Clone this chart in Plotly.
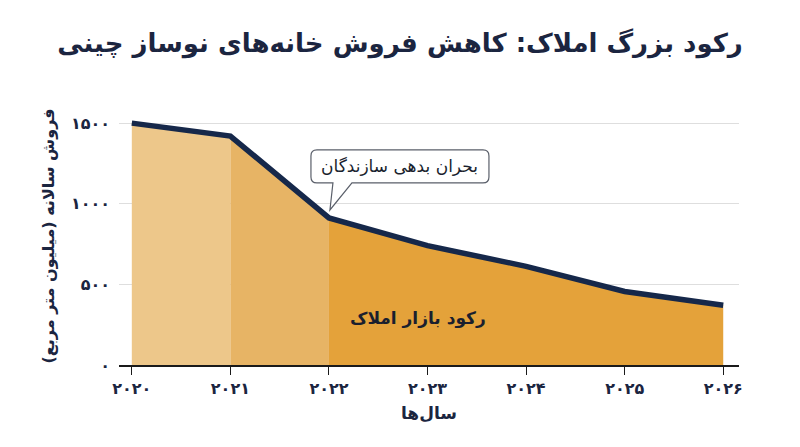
import plotly.graph_objects as go

# data
years = [2020, 2021, 2022, 2023, 2024, 2025, 2026]
sales = [1500, 1420, 912, 740, 612, 456, 370]
year_labels = ["۲۰۲۰", "۲۰۲۱", "۲۰۲۲", "۲۰۲۳", "۲۰۲۴", "۲۰۲۵", "۲۰۲۶"]
y_ticks = [0, 500, 1000, 1500]
y_labels = ["۰", "۵۰۰", "۱۰۰۰", "۱۵۰۰"]

# shading bands: (start index, end index, colour)
bands = [(0, 1, "#EDC78A"), (1, 2, "#E7B465"), (2, 6, "#E4A23A")]

font_fa = "DejaVu Sans"
navy = "#16284A"
ink = "#1B2540"

fig = go.Figure()

for i0, i1, col in bands:
    fig.add_trace(go.Scatter(x=years[i0:i1 + 1], y=sales[i0:i1 + 1], mode="lines",
                             fill="tozeroy", fillcolor=col, line=dict(width=0),
                             hoverinfo="skip", showlegend=False))

fig.add_trace(go.Scatter(x=years, y=sales, mode="lines",
                         line=dict(color=navy, width=5.5), showlegend=False))

# speech bubble pointing at 2022 (pixel offsets relative to the data point)
bubble = ("M -12 68 L 154 68 Q 160 68 160 62 L 160 41 Q 160 35 154 35 "
          "L 23 35 L 1 8 L 4 35 L -12 35 Q -18 35 -18 41 L -18 62 Q -18 68 -12 68 Z")
fig.add_shape(type="path", path=bubble, xref="x", yref="y",
              xsizemode="pixel", ysizemode="pixel",
              xanchor=years[2], yanchor=sales[2],
              fillcolor="white", line=dict(color="#5A5F6A", width=1.2), layer="above")

fig.add_annotation(x=years[2], y=sales[2], xshift=71, yshift=52, showarrow=False,
                   text="بحران بدهی سازندگان",
                   font=dict(family=font_fa, size=17, color="#1A1F2E"))

fig.add_annotation(x=2022.9, y=290, showarrow=False, text="<b>رکود بازار املاک</b>",
                   font=dict(family=font_fa, size=17, color="#1A1F2E"))

fig.update_layout(
    width=800, height=447,
    margin=dict(l=119, r=61, t=107, b=82),
    paper_bgcolor="white", plot_bgcolor="white",
    title=dict(text="<b>رکود بزرگ املاک: کاهش فروش خانه‌های نوساز چینی</b>",
               x=0.5, xanchor="center", y=1 - 43 / 447, yanchor="middle",
               font=dict(family=font_fa, size=26, color=ink)),
    xaxis=dict(range=[2019.87, 2026.16], tickvals=years, ticktext=year_labels,
               showgrid=False, showline=True, linecolor="#1A1A1A", linewidth=1.5,
               ticks="outside", ticklen=8, tickcolor="#1A1A1A", tickwidth=1.2,
               tickfont=dict(family=font_fa, size=16, color=ink, weight="bold"),
               title=dict(text="<b>سال‌ها</b>", standoff=10,
                          font=dict(family=font_fa, size=17, color=ink))),
    yaxis=dict(range=[0, 1600], tickvals=y_ticks, ticktext=y_labels,
               showgrid=True, gridcolor="#DEDEDE", gridwidth=1, zeroline=False,
               ticks="", ticklabelstandoff=8,
               tickfont=dict(family=font_fa, size=16, color=ink, weight="bold"),
               title=dict(text="<b>فروش سالانه (میلیون متر مربع)</b>", standoff=12,
                          font=dict(family=font_fa, size=16, color=ink))),
)

# drop the browser's default body margin so the figure sits at the window corner
fig.write_html("out.html", config={"displayModeBar": False},
               post_script="document.body.style.margin = '0';")
